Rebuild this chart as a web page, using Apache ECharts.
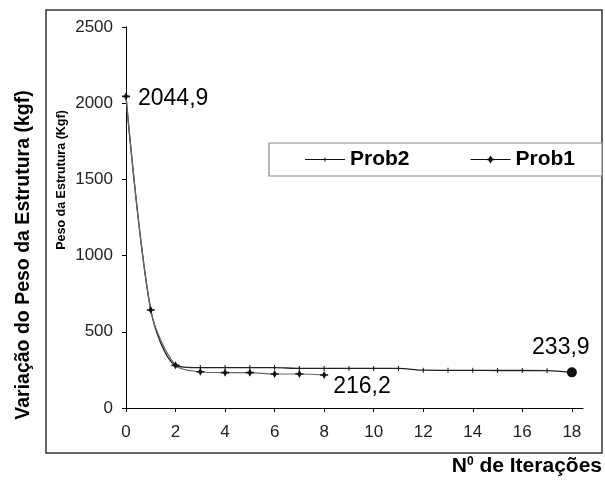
<!DOCTYPE html>
<html>
<head>
<meta charset="utf-8">
<script src="https://cdn.jsdelivr.net/npm/echarts@6/dist/echarts.min.js"></script>
<style>
html,body{margin:0;padding:0;background:#fff;}
#chart{width:605px;height:484px;}
</style>
</head>
<body>
<div id="chart"></div>
<script>
// ---- data ----
const iterationsProb2 = [0, 1, 2, 3, 4, 5, 6, 7, 8, 9, 10, 11, 12, 13, 14, 15, 16, 17, 18];
const prob2 = [2044.9, 643, 280, 265, 265, 265, 265, 260, 260, 260, 260, 260, 248, 247, 247, 246, 246, 245, 233.9];
const iterationsProb1 = [0, 1, 2, 3, 4, 5, 6, 7, 8];
const prob1 = [2044.9, 643, 280, 238, 232, 232, 223, 223, 216.2];
const xTickValues = [0, 2, 4, 6, 8, 10, 12, 14, 16, 18];
const yTickValues = [0, 500, 1000, 1500, 2000, 2500];
const seriesNames = ['Prob2', 'Prob1'];
const yTitleOuter = 'Variação do Peso da Estrutura (kgf)';
const yTitleInner = 'Peso da Estrutura (Kgf)';

const FONT = '"Liberation Sans", Arial, sans-serif';
const fmt = v => v.toFixed(1).replace('.', ',');

const prob2Data = iterationsProb2.map((x, i) => {
  const item = { value: [x, prob2[i]] };
  if (i === prob2.length - 1) {
    item.symbol = 'circle';
    item.symbolSize = 10;
    item.label = { show: true, position: 'top', offset: [-11, -3], formatter: p => fmt(p.value[1]) };
  }
  return item;
});
const prob1Data = iterationsProb1.map((x, i) => {
  const item = { value: [x, prob1[i]] };
  if (i === 0) {
    item.label = { show: true, position: 'right', offset: [3, 2], formatter: p => fmt(p.value[1]) };
  }
  if (i === prob1.length - 1) {
    item.label = { show: true, position: 'right', offset: [0, 12], formatter: p => fmt(p.value[1]) };
  }
  return item;
});

const starPath = 'path://M0,-4.5 L2,-0.9 L4.5,-0.9 L4.5,0.9 L2,0.9 L0,4.5 L-2,0.9 L-4.5,0.9 L-4.5,-0.9 L-2,-0.9 Z';
const tickPath = 'path://M0,0 L1,0 L1,5 L0,5 Z';
const legendIconProb2 = 'path://M0,4.5 L40,4.5 L40,5.5 L0,5.5 Z M19.5,3 L20.5,3 L20.5,7 L19.5,7 Z';
const legendIconProb1 = 'path://M0,-0.6 L16,-0.6 L18,-0.9 L20,-4 L22,-0.9 L24,-0.6 L40,-0.6 L40,0.6 L24,0.6 L22,0.9 L20,4 L18,0.9 L16,0.6 L0,0.6 Z';

const chart = echarts.init(document.getElementById('chart'), null, { renderer: 'canvas' });
chart.setOption({
  animation: false,
  backgroundColor: '#fff',
  textStyle: { fontFamily: FONT },
  grid: { left: 126, right: 22, top: 27, bottom: 76, containLabel: false },
  legend: {
    data: [
      { name: seriesNames[0], icon: legendIconProb2 },
      { name: seriesNames[1], icon: legendIconProb1 }
    ],
    left: 305,
    top: 149,
    itemWidth: 40,
    itemHeight: 8,
    itemGap: 61,
    padding: 0,
    symbolKeepAspect: true,
    textStyle: { fontFamily: FONT, fontSize: 21, fontWeight: 'bold', color: '#000' }
  },
  xAxis: {
    type: 'value',
    min: 0,
    max: 18.45,
    splitLine: { show: false },
    axisLine: { lineStyle: { color: '#000', width: 1 } },
    axisTick: { show: true, length: 4, customValues: xTickValues, lineStyle: { color: '#000' } },
    axisLabel: { customValues: xTickValues, margin: 16, fontSize: 17, color: '#222', fontFamily: FONT }
  },
  yAxis: {
    type: 'value',
    min: 0,
    max: 2500,
    interval: 500,
    splitLine: { show: false },
    axisLine: { show: true, lineStyle: { color: '#000', width: 1 } },
    axisTick: { show: true, length: 4, lineStyle: { color: '#000' } },
    axisLabel: { margin: 13, fontSize: 17, color: '#222', fontFamily: FONT, formatter: v => String(v) }
  },
  graphic: [
    { type: 'rect', shape: { x: 46, y: 10, width: 556, height: 443 }, style: { fill: 'none', stroke: '#333', lineWidth: 1.5 }, z: 0 },
    { type: 'rect', shape: { x: 269, y: 143, width: 333, height: 33 }, style: { fill: '#fff', stroke: '#888', lineWidth: 1.2 }, z: 0 },
    { type: 'text', x: 24, y: 255, rotation: Math.PI / 2, style: { text: yTitleOuter, font: 'bold 19.5px ' + FONT, fill: '#000', align: 'center', verticalAlign: 'middle' } },
    { type: 'text', x: 62, y: 180, rotation: Math.PI / 2, style: { text: yTitleInner, font: 'bold 12.5px ' + FONT, fill: '#000', align: 'center', verticalAlign: 'middle' } },
    { type: 'text', right: 3, top: 456, style: {
        text: '{n|N}{s|0}{n| de Iterações}',
        rich: {
          n: { font: 'bold 21px ' + FONT, fill: '#000', verticalAlign: 'bottom' },
          s: { font: 'bold 12px ' + FONT, fill: '#000', verticalAlign: 'top', padding: [0, 0, 9, 0] }
        }
      } }
  ],
  series: [
    {
      name: 'Prob2',
      type: 'line',
      smooth: 0.3,
      data: prob2Data,
      symbol: tickPath,
      symbolKeepAspect: true,
      symbolSize: 5,
      lineStyle: { color: '#222', width: 1.3 },
      itemStyle: { color: '#111' },
      label: { fontSize: 23, color: '#000', fontFamily: FONT },
      z: 3
    },
    {
      name: 'Prob1',
      type: 'line',
      smooth: 0.3,
      data: prob1Data,
      symbol: starPath,
      symbolSize: 8,
      lineStyle: { color: '#666', width: 1.2 },
      itemStyle: { color: '#111' },
      label: { fontSize: 23, color: '#000', fontFamily: FONT },
      z: 4
    }
  ]
});
</script>
</body>
</html>
